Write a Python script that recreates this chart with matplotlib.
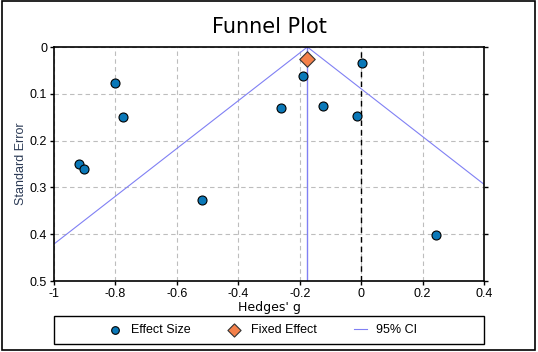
import matplotlib
matplotlib.use('Agg')
import matplotlib.pyplot as plt
import numpy as np

# Study data
hedges_g = [-0.801, -0.775, -0.919, -0.902, -0.518, -0.261, -0.189, -0.123, -0.013, 0.004, 0.244]
std_err = [0.077, 0.150, 0.250, 0.261, 0.327, 0.130, 0.061, 0.125, 0.147, 0.034, 0.402]

fixed_g = -0.175
fixed_se = 0.026
ci_z = 1.96

xticks = [-1, -0.8, -0.6, -0.4, -0.2, 0, 0.2, 0.4]
xtick_labels = ['-1', '-0.8', '-0.6', '-0.4', '-0.2', '0', '0.2', '0.4']
yticks = [0, 0.1, 0.2, 0.3, 0.4, 0.5]
ytick_labels = ['0', '0.1', '0.2', '0.3', '0.4', '0.5']


def main():
    fig = plt.figure(figsize=(5.38, 3.52), dpi=100)
    ax = fig.add_axes([54 / 538, 1 - 281 / 352, 430 / 538, 234 / 352])

    # outer frame of the figure
    fig.patches.append(plt.Rectangle((0.003, 0.006), 0.992, 0.99, transform=fig.transFigure,
                                     fill=False, edgecolor='black', linewidth=1.2))

    # funnel (95% CI)
    se_line = np.array([0, 0.6])
    ax.plot(fixed_g - ci_z * se_line, se_line, color='#8080f4', lw=0.8, label='95% CI', zorder=2)
    ax.plot(fixed_g + ci_z * se_line, se_line, color='#8080f4', lw=0.8, zorder=2)
    ax.axvline(fixed_g, color='#8080f4', lw=1.0, zorder=2)
    ax.axvline(0, color='black', lw=1.0, ls=(0, (4, 3)), zorder=2)

    ax.scatter(hedges_g, std_err, s=42, color='#0a78b8', edgecolor='black', linewidth=0.8,
               label='Effect Size', zorder=4)
    ax.scatter([fixed_g], [fixed_se], s=62, marker='D', color='#f4804a', edgecolor='#333333',
               linewidth=0.8, label='Fixed Effect', zorder=5)

    ax.set_xlim(-1, 0.4)
    ax.set_ylim(0.5, 0)
    ax.set_xticks(xticks)
    ax.set_xticklabels(xtick_labels, family='Liberation Sans', fontsize=9)
    ax.set_yticks(yticks)
    ax.set_yticklabels(ytick_labels, family='Liberation Sans', fontsize=9)
    ax.tick_params(axis='both', direction='out', length=3, width=1, pad=2,
                   right=True, top=False)
    ax.grid(True, color='#bdbdbd', ls=(0, (4, 3)), lw=0.8)
    for s in ax.spines.values():
        s.set_linewidth(1.2)

    ax.set_xlabel("Hedges' g", fontsize=9, family='DejaVu Sans', labelpad=1)
    ax.set_ylabel('Standard Error', fontsize=9, family='Liberation Sans', color='#2b3a55', labelpad=2)
    ax.set_title('Funnel Plot', fontsize=15, family='DejaVu Sans', pad=10)

    # legend box spanning the axes width
    fig.patches.append(plt.Rectangle((54 / 538, 1 - 344 / 352), 430 / 538, 28 / 352,
                                     transform=fig.transFigure, fill=False,
                                     edgecolor='black', linewidth=1.0))
    handles, labels = ax.get_legend_handles_labels()
    order = [labels.index('Effect Size'), labels.index('Fixed Effect'), labels.index('95% CI')]
    ax.legend([handles[i] for i in order], [labels[i] for i in order],
              loc='center', bbox_to_anchor=(263 / 538, 1 - 330 / 352),
              bbox_transform=fig.transFigure, ncol=3, frameon=False,
              prop={'family': 'Liberation Sans', 'size': 9}, handlelength=1.0,
              handletextpad=0.8, columnspacing=3.0, markerscale=0.85)

    fig.savefig('out.png', dpi=100)


if __name__ == '__main__':
    main()
